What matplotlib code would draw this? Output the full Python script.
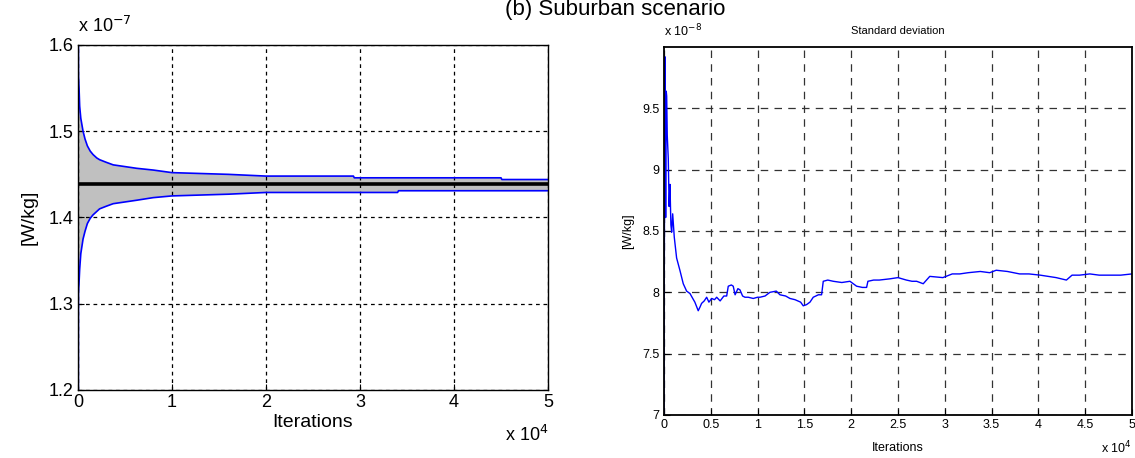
import numpy as np
import matplotlib.pyplot as plt

# ---------------- data (iterations in units of 1e4, SAR in 1e-7 / 1e-8 W/kg) ----------------
# running mean and 95% band of the SAR estimate
band_iter = [0.0, 0.005, 0.012, 0.018, 0.03, 0.054, 0.075, 0.10, 0.13, 0.16, 0.20,
             0.23, 0.30, 0.375, 0.50, 0.625, 0.80, 1.0, 1.3, 1.6, 2.0, 2.5,
             2.93, 2.94, 3.4, 3.41, 4.0, 4.5, 4.51, 5.0]
band_upper = [2.00, 1.565, 1.548, 1.529, 1.515, 1.500, 1.491, 1.483, 1.477, 1.473, 1.469,
              1.467, 1.464, 1.461, 1.459, 1.457, 1.455, 1.452, 1.451, 1.450, 1.448, 1.448,
              1.448, 1.446, 1.446, 1.446, 1.446, 1.446, 1.444, 1.444]
band_lower = [0.90, 1.312, 1.326, 1.340, 1.358, 1.375, 1.384, 1.393, 1.399, 1.403, 1.407,
              1.410, 1.413, 1.416, 1.418, 1.420, 1.423, 1.425, 1.426, 1.427, 1.429, 1.429,
              1.429, 1.429, 1.429, 1.431, 1.431, 1.431, 1.431, 1.431]
mean_sar = 1.4385

# running standard deviation
std_iter = [0.0, 0.002, 0.011, 0.018, 0.024, 0.029, 0.035, 0.046, 0.055, 0.064, 0.074,
            0.082, 0.093, 0.11, 0.135, 0.17, 0.206, 0.242, 0.278, 0.30, 0.33, 0.366,
            0.385, 0.402, 0.43, 0.456, 0.48, 0.51, 0.54, 0.563, 0.60, 0.64, 0.67,
            0.687, 0.72, 0.74, 0.76, 0.79, 0.812, 0.84, 0.865, 0.90, 0.954, 1.0,
            1.026, 1.08, 1.132, 1.20, 1.239, 1.30, 1.346, 1.40, 1.46, 1.488, 1.524,
            1.56, 1.595, 1.65, 1.684, 1.702, 1.75, 1.809, 1.90, 1.987, 2.058, 2.12,
            2.165, 2.179, 2.24, 2.30, 2.414, 2.50, 2.59, 2.65, 2.70, 2.77, 2.84, 2.98,
            3.08, 3.16, 3.25, 3.38, 3.48, 3.55, 3.67, 3.80, 3.90, 4.02, 4.19, 4.30,
            4.36, 4.44, 4.55, 4.65, 4.76, 4.88, 5.0]
std_sar = [7.00, 7.83, 9.92, 8.61, 9.64, 9.60, 9.28, 9.09, 8.70, 8.88, 8.55,
           8.49, 8.64, 8.45, 8.28, 8.18, 8.07, 8.01, 7.99, 7.96, 7.92, 7.85,
           7.88, 7.91, 7.93, 7.96, 7.92, 7.95, 7.94, 7.96, 7.93, 7.97, 7.97,
           8.05, 8.06, 8.05, 7.98, 8.03, 8.02, 7.97, 7.96, 7.96, 7.95, 7.96,
           7.96, 7.97, 8.00, 8.01, 7.98, 7.97, 7.95, 7.94, 7.92, 7.89, 7.90,
           7.92, 7.96, 7.98, 7.98, 8.09, 8.10, 8.09, 8.08, 8.09, 8.05, 8.04,
           8.04, 8.09, 8.10, 8.10, 8.11, 8.12, 8.10, 8.09, 8.09, 8.07, 8.13, 8.12,
           8.15, 8.15, 8.16, 8.17, 8.16, 8.18, 8.17, 8.15, 8.15, 8.14, 8.12, 8.10,
           8.14, 8.14, 8.15, 8.14, 8.14, 8.14, 8.15]

left_yticks = [1.2, 1.3, 1.4, 1.5, 1.6]
left_xticks = [0, 1, 2, 3, 4, 5]
right_yticks = [7, 7.5, 8, 8.5, 9, 9.5]
right_xticks = [0, 0.5, 1, 1.5, 2, 2.5, 3, 3.5, 4, 4.5, 5]

plt.rcParams['font.family'] = ['Liberation Sans', 'DejaVu Sans']

fig = plt.figure(figsize=(11.35, 4.58), dpi=100)
fig.text(0.542, 0.968, '(b) Suburban scenario', ha='center', va='baseline', fontsize=16)

# ---------------- left: mean with confidence band ----------------
ax1 = fig.add_axes([0.0687, 0.1485, 0.4141, 0.7533])
ax1.fill_between(band_iter, band_lower, band_upper, color='#c0c0c0', linewidth=0)
ax1.plot(band_iter, band_upper, color='#0000ff', linewidth=1.2)
ax1.plot(band_iter, band_lower, color='#0000ff', linewidth=1.2)
ax1.axhline(mean_sar, color='black', linewidth=2.6)
ax1.set_xlim(0, 5)
ax1.set_ylim(1.2, 1.6)
ax1.set_xticks(left_xticks)
ax1.set_yticks(left_yticks)
ax1.set_xticklabels([str(v) for v in left_xticks], fontsize=13)
ax1.set_yticklabels([f'{v:.1f}' for v in left_yticks], fontsize=13)
ax1.tick_params(direction='in', length=4, width=0.8, pad=3)
ax1.grid(True, color='black', linestyle=(0, (3, 3)), linewidth=0.9)
for s in ax1.spines.values():
    s.set_linewidth(1.0)
ax1.set_xlabel('Iterations', fontsize=14, labelpad=2)
ax1.set_ylabel('[W/kg]', fontsize=14, labelpad=8)
ax1.text(0.0, 1.025, r'x 10$^{-7}$', transform=ax1.transAxes,
         fontsize=13, ha='left', va='bottom')
ax1.text(1.0, -0.10, r'x 10$^{4}$', transform=ax1.transAxes,
         fontsize=13, ha='right', va='top')

# ---------------- right: standard deviation ----------------
ax2 = fig.add_axes([0.585, 0.0939, 0.4123, 0.8035])
ax2.plot(std_iter, std_sar, color='#0000ff', linewidth=1.0)
ax2.set_xlim(0, 5)
ax2.set_ylim(7, 10)
ax2.set_xticks(right_xticks)
ax2.set_yticks(right_yticks)
ax2.set_xticklabels([f'{v:g}' for v in right_xticks], fontsize=9)
ax2.set_yticklabels([f'{v:g}' for v in right_yticks], fontsize=9)
ax2.tick_params(direction='in', length=4, width=0.8, pad=3)
ax2.grid(True, color='#333333', linestyle=(0, (6, 5)), linewidth=0.9)
for s in ax2.spines.values():
    s.set_linewidth(1.3)
ax2.set_title('Standard deviation', fontsize=8, pad=9)
ax2.set_xlabel('Iterations', fontsize=9, labelpad=8)
ax2.set_ylabel('[W/kg]', fontsize=9, labelpad=6)
ax2.text(0.0, 1.02, r'x 10$^{-8}$', transform=ax2.transAxes, fontsize=9,
         ha='left', va='bottom')
ax2.text(1.0, -0.068, r'x 10$^{4}$', transform=ax2.transAxes, fontsize=9,
         ha='right', va='top')

fig.savefig('out.png', dpi=100)
